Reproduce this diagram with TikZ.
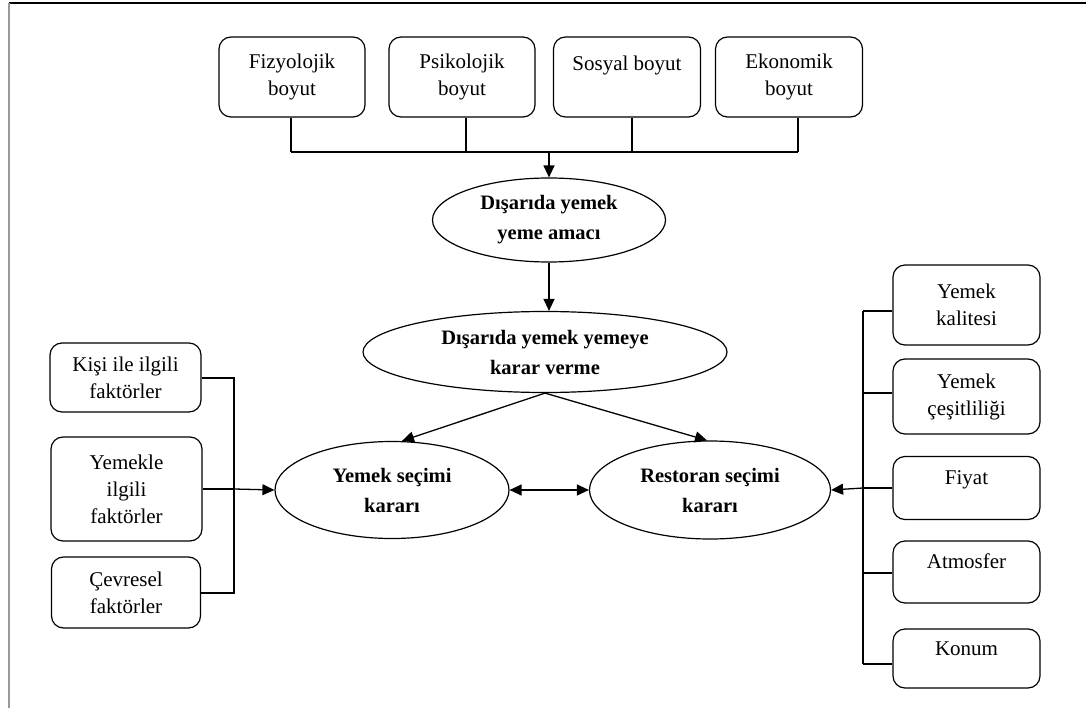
\documentclass[tikz,border=0pt]{standalone}
\usepackage{fontspec}
\setmainfont{Liberation Serif}
\usetikzlibrary{arrows.meta,shapes.geometric,calc}
\begin{document}
\begin{tikzpicture}[x=1pt,y=-1pt,
  box/.style={draw,rounded corners=12pt,line width=1.2pt,align=center,inner sep=0pt,
    font=\fontsize{21}{27}\selectfont},
  ell/.style={draw,ellipse,line width=1.2pt,align=center,inner sep=0pt,
    font=\fontsize{20.5}{30}\selectfont\bfseries},
  stub/.style={line width=2pt},
  bus/.style={line width=1.5pt},
  arr/.style={line width=1.3pt,-{Triangle[length=12pt,width=11pt]}},
  darr/.style={line width=1.3pt,{Triangle[length=12pt,width=11pt]}-{Triangle[length=12pt,width=11pt]}}
]
\useasboundingbox (0,0) rectangle (1086,708);
\fill[white] (0,0) rectangle (1086,708);
% frame
\coordinate (fTL) at (9,3);
\coordinate (fTR) at (1086,3);
\coordinate (fBL) at (9,708);
\draw[line width=1.3pt,black] (fTL) -- (fTR);
\draw[line width=2pt,black!40] (fTL) -- (fBL);

% top boxes
\node[box,minimum width=146,minimum height=80] (fiz) at (292,77) {Fizyolojik\\boyut};
\node[box,minimum width=146,minimum height=80] (psi) at (462,77) {Psikolojik\\boyut};
\node[box,minimum width=147,minimum height=80] (sos) at (627,77) {Sosyal boyut\\\mbox{}};
\node[box,minimum width=147,minimum height=80] (eko) at (789,77) {Ekonomik\\boyut};

\coordinate (busY) at (0,152);
\draw[stub] ([xshift=-1]fiz.south) -- ([xshift=-1]fiz.south |- busY);
\draw[stub] ([xshift=4]psi.south) -- ([xshift=4]psi.south |- busY);
\draw[stub] ([xshift=5]sos.south) -- ([xshift=5]sos.south |- busY);
\draw[stub] ([xshift=9]eko.south) -- ([xshift=9]eko.south |- busY);
\draw[bus] ([xshift=-1]fiz.south |- busY) -- ([xshift=9]eko.south |- busY);

% ellipses
\node[ell,minimum width=233,minimum height=84] (amac) at (549,220) {Dışarıda yemek\\yeme amacı};
\node[ell,minimum width=364,minimum height=81] (karar) at (545,352) {Dışarıda yemek yemeye\\karar verme};
\node[ell,minimum width=234,minimum height=97] (yemek) at (392,490) {Yemek seçimi\\kararı};
\node[ell,minimum width=241,minimum height=98] (rest) at (710,490) {Restoran seçimi\\kararı};

\draw[arr] (amac.north |- busY) -- (amac.north);
\draw[arr] (amac.south) -- (karar.north -| amac.south);
\draw[arr] (karar.south) -- ([xshift=10]yemek.north);
\draw[arr] (karar.south) -- ([xshift=-3]rest.north);
\draw[darr] (yemek.east) -- (rest.west);

% left boxes
\node[box,minimum width=151,minimum height=69] (kisi) at (125.5,377.5) {Kişi ile ilgili\\faktörler};
\node[box,minimum width=151,minimum height=104] (yml) at (126.5,489) {Yemekle\\ilgili\\faktörler};
\node[box,minimum width=149,minimum height=71] (cev) at (126,592.5) {Çevresel\\faktörler};

\coordinate (lx) at (234,0);
\draw[stub] (kisi.east) -- (kisi.east -| lx) -- (cev.east -| lx) -- (cev.east);
\draw[stub] (yml.east) -- (yml.east -| lx);
\draw[arr] (yml.east -| lx) -- (yemek.west);

% right boxes
\node[box,minimum width=147,minimum height=80] (kal) at (966.5,305) {Yemek\\kalitesi};
\node[box,minimum width=147,minimum height=75] (ces) at (966.5,396.5) {Yemek\\çeşitliliği};
\node[box,minimum width=147,minimum height=63] (fiy) at (966.5,488) {Fiyat\\[-6pt]\mbox{}};
\node[box,minimum width=147,minimum height=62] (atm) at (966.5,572) {Atmosfer\\[-6pt]\mbox{}};
\node[box,minimum width=147,minimum height=59] (kon) at (966.5,658.5) {Konum\\[-8pt]\mbox{}};

\coordinate (rx) at (863,0);
\coordinate (kalY) at (0,311);
\coordinate (cesY) at (0,393);
\coordinate (atmY) at (0,573);
\coordinate (konY) at (0,664);
\draw[bus] (rx |- kalY) -- (rx |- konY);
\draw[stub] (kal.west |- kalY) -- (rx |- kalY);
\draw[stub] (ces.west |- cesY) -- (rx |- cesY);
\draw[stub] (fiy.west) -- (fiy.west -| rx);
\draw[stub] (atm.west |- atmY) -- (rx |- atmY);
\draw[stub] (kon.west |- konY) -- (rx |- konY);
\draw[arr] (fiy.west -| rx) -- (rest.east);
\end{tikzpicture}
\end{document}
